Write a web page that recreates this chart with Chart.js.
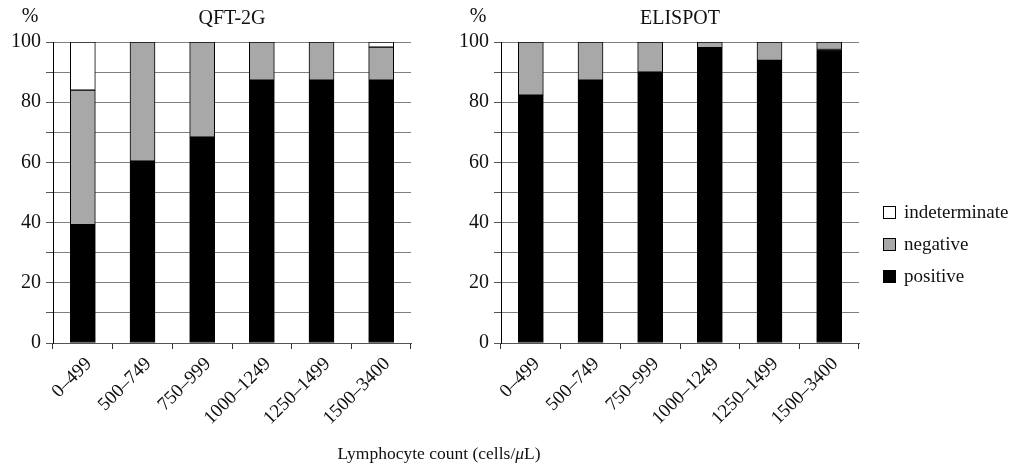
<!DOCTYPE html>
<html>
<head>
<meta charset="utf-8">
<script src="https://cdn.jsdelivr.net/npm/chart.js@4/dist/chart.umd.min.js"></script>
<style>
  html, body { margin:0; padding:0; background:#fff; }
  #wrap { position:relative; width:1022px; height:466px; overflow:hidden; }
  canvas { position:absolute; top:0; }
  #c1 { left:0; }
  #c2 { left:440px; }
  #xtitle { position:absolute; left:239px; width:400px; top:443px; text-align:center;
            font-family:"Liberation Serif", "Times New Roman", serif; font-size:17.5px; color:#111; }
</style>
</head>
<body>
<div id="wrap">
  <canvas id="c1" width="440" height="466"></canvas>
  <canvas id="c2" width="582" height="466"></canvas>
  <div id="xtitle">Lymphocyte count (cells/<i>μ</i>L)</div>
</div>
<script>
const categories = ['0–499', '500–749', '750–999', '1000–1249', '1250–1499', '1500–3400'];
const seriesNames = ['positive', 'negative', 'indeterminate'];

const qftPositive      = [39.3, 60.4, 68.4, 87.3, 87.3, 87.3];
const qftNegative      = [44.7, 39.6, 31.6, 12.7, 12.7, 11.0];
const qftIndeterminate = [16.0, 0, 0, 0, 0, 1.7];

const elispotPositive      = [82.3, 87.3, 90.0, 98.1, 93.9, 97.5];
const elispotNegative      = [17.7, 12.7, 10.0, 1.9, 6.1, 2.5];
const elispotIndeterminate = [0, 0, 0, 0, 0, 0];

const yTicks = [0, 20, 40, 60, 80, 100];

const FONT = '"Liberation Serif", "Times New Roman", serif';
const fills = { positive: '#000000', negative: '#a8a8a8', indeterminate: '#ffffff' };

const titlePlugin = {
  id: 'panelTitle',
  afterDraw(chart, args, opts) {
    const ctx = chart.ctx, a = chart.chartArea;
    ctx.save();
    ctx.fillStyle = '#111';
    ctx.font = '20px ' + FONT;
    ctx.textAlign = 'center';
    ctx.textBaseline = 'middle';
    ctx.fillText(opts.text, (a.left + a.right) / 2, 19);
    ctx.fillText('%', a.left - 23, 17);
    ctx.restore();
  }
};

const legendPlugin = {
  id: 'sideLegend',
  afterDraw(chart, args, opts) {
    if (!opts.show) return;
    const ctx = chart.ctx;
    const ds = chart.data.datasets.slice().reverse();
    ctx.save();
    ctx.font = '19px ' + FONT;
    ctx.textBaseline = 'middle';
    ds.forEach((d, i) => {
      const y = opts.y + i * 32;
      ctx.fillStyle = d.backgroundColor;
      ctx.fillRect(opts.x + 0.5, y - 6.5, 12, 12);
      ctx.strokeStyle = '#000';
      ctx.lineWidth = 1;
      ctx.strokeRect(opts.x + 0.5, y - 6.5, 12, 12);
      ctx.fillStyle = '#111';
      ctx.fillText(d.label, opts.x + 21, y);
    });
    ctx.restore();
  }
};

function makeConfig(title, pos, neg, ind, yAxisWidth, padRight, legend) {
  const data = { positive: pos, negative: neg, indeterminate: ind };
  return {
    type: 'bar',
    data: {
      labels: categories,
      datasets: seriesNames.map(n => ({
        label: n,
        data: data[n],
        backgroundColor: fills[n],
        borderColor: '#000',
        borderWidth: 1,
        borderSkipped: false,
        barThickness: 25
      }))
    },
    plugins: [titlePlugin, legendPlugin],
    options: {
      responsive: false,
      animation: false,
      devicePixelRatio: 1,
      layout: { padding: { top: 42, right: padRight, bottom: 0, left: 0 } },
      plugins: {
        legend: { display: false },
        tooltip: { enabled: false },
        title: { display: false },
        panelTitle: { text: title },
        sideLegend: legend
      },
      scales: {
        x: {
          stacked: true,
          grid: { drawOnChartArea: false, drawTicks: true, tickLength: 6, tickColor: '#333', offset: true },
          border: { color: '#555', width: 1 },
          ticks: { color: '#111', font: { family: FONT, size: 19 }, minRotation: 45, maxRotation: 45,
                   padding: 4, labelOffset: 6 },
          afterFit(s) { s.height = 123; }
        },
        y: {
          stacked: true,
          min: 0, max: 100,
          grid: { color: '#808080', lineWidth: 1, tickLength: 7, tickColor: '#555' },
          border: { color: '#000', width: 1 },
          ticks: {
            stepSize: 10,
            color: '#111',
            font: { family: FONT, size: 20 },
            padding: 5,
            callback: v => yTicks.includes(v) ? String(v) : ''
          },
          afterFit(s) { s.width = yAxisWidth; }
        }
      }
    }
  };
}

new Chart(document.getElementById('c1'),
  makeConfig('QFT-2G', qftPositive, qftNegative, qftIndeterminate, 53, 29, { show: false }));
new Chart(document.getElementById('c2'),
  makeConfig('ELISPOT', elispotPositive, elispotNegative, elispotIndeterminate, 61, 163, { show: true, x: 443, y: 213 }));
</script>
</body>
</html>
